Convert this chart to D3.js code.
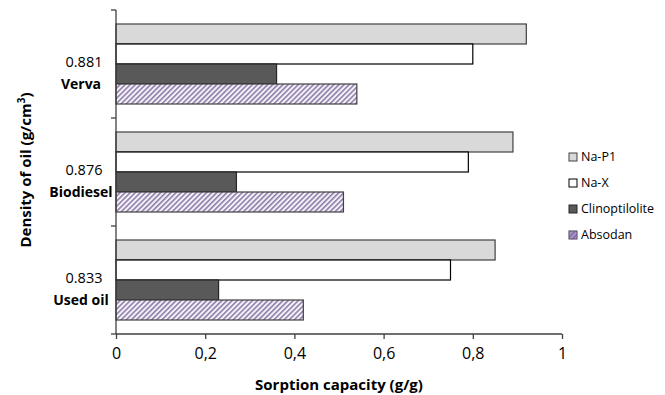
<!DOCTYPE html>
<html>
<head>
<meta charset="utf-8">
<script src="https://cdn.jsdelivr.net/npm/d3@7"></script>
<style>
  body { margin: 0; background: #fff; }
  svg { font-family: 'Open Sans', sans-serif; }
</style>
</head>
<body>
<div id="chart"></div>
<script>
// Categories top to bottom, with oil densities
const oils = ['Verva', 'Biodiesel', 'Used oil'];
const densities = ['0.881', '0.876', '0.833'];
const sorbents = ['Na-P1', 'Na-X', 'Clinoptilolite', 'Absodan'];

// Sorption capacity (g/g), one array per sorbent, in oils order
const naP1 = [0.92, 0.89, 0.85];
const naX = [0.80, 0.79, 0.75];
const clino = [0.36, 0.27, 0.23];
const absodan = [0.54, 0.51, 0.42];

const xTicks = [0, 0.2, 0.4, 0.6, 0.8, 1];

const series = [naP1, naX, clino, absodan];
const fills = ['#d9d9d9', '#ffffff', '#595959', 'url(#hatch)'];
const strokes = ['#404040', '#000000', '#262626', '#404040'];

const width = 665, height = 395;
const margin = { top: 10, left: 116, right: 103, bottom: 61 };

const svg = d3.select('#chart')
	.append('svg')
	.attr('width', width)
	.attr('height', height);

// hatch pattern for Absodan
const defs = svg.append('defs');
const pat = defs.append('pattern')
	.attr('id', 'hatch')
	.attr('patternUnits', 'userSpaceOnUse')
	.attr('width', 3.6)
	.attr('height', 3.6)
	.attr('patternTransform', 'rotate(45)');
pat.append('rect').attr('width', 3.6).attr('height', 3.6).attr('fill', '#f4f2f7');
pat.append('rect').attr('width', 1.6).attr('height', 3.6).attr('fill', '#8f7dab');

const xScale = d3.scaleLinear().domain([0, 1]).range([margin.left, width - margin.right]);
const yScale = d3.scaleBand().domain(oils).range([margin.top, height - margin.bottom]);
const inner = d3.scaleBand().domain(sorbents).range([0, yScale.bandwidth()]).paddingOuter(0.7);

const rows = oils.map((oil, i) => ({ oil, values: sorbents.map((s, j) => ({ s, j, v: series[j][i] })) }));

const groups = svg.selectAll('.grp')
	.data(rows)
	.enter()
	.append('g')
	.attr('transform', (d) => `translate(0,${yScale(d.oil)})`);

groups.selectAll('rect')
	.data((d) => d.values)
	.enter()
	.append('rect')
	.attr('x', xScale(0))
	.attr('y', (d) => inner(d.s))
	.attr('width', (d) => xScale(d.v) - xScale(0))
	.attr('height', inner.bandwidth())
	.attr('fill', (d) => fills[d.j])
	.attr('stroke', (d) => strokes[d.j])
	.attr('stroke-width', 1.2);

// X axis
const xAxis = d3.axisBottom(xScale)
	.tickValues(xTicks)
	.tickSize(5)
	.tickFormat((d) => d3.format('.1f')(d).replace('.', ',').replace(/^0,0$/, '0').replace(/^1,0$/, '1'));
const gx = svg.append('g')
	.attr('transform', `translate(0,${height - margin.bottom})`)
	.call(xAxis);
gx.select('.domain').attr('stroke', '#404040').attr('stroke-width', 1.3)
	.attr('d', `M${xScale(0)},0H${xScale(1)}`);
gx.selectAll('.tick line').attr('stroke', '#404040').attr('stroke-width', 1.3);
gx.selectAll('.tick text')
	.attr('dy', '1.05em')
	.attr('font-size', 16)
	.attr('font-family', "'Open Sans', sans-serif")
	.attr('fill', '#000');

// Y axis (category separators)
const sepY = oils.map((o) => yScale(o)).concat([height - margin.bottom]);
svg.append('line')
	.attr('x1', xScale(0)).attr('x2', xScale(0))
	.attr('y1', margin.top).attr('y2', height - margin.bottom)
	.attr('stroke', '#404040').attr('stroke-width', 1.3);
svg.selectAll('.ytick')
	.data(sepY)
	.enter()
	.append('line')
	.attr('x1', xScale(0) - 5).attr('x2', xScale(0))
	.attr('y1', (d) => d).attr('y2', (d) => d)
	.attr('stroke', '#404040').attr('stroke-width', 1.3);

// Category labels
const labels = svg.selectAll('.lab')
	.data(oils)
	.enter()
	.append('text')
	.attr('text-anchor', 'middle')
	.attr('font-size', 14.5)
	.attr('fill', '#000');
labels.append('tspan')
	.attr('x', 84)
	.attr('y', (d) => yScale(d) + yScale.bandwidth() / 2 + 3)
	.text((d, i) => densities[i]);
labels.append('tspan')
	.attr('x', 81)
	.attr('y', (d) => yScale(d) + yScale.bandwidth() / 2 + 25)
	.attr('font-weight', 'bold')
	.attr('font-size', 14)
	.text((d) => d);

// Axis titles
svg.append('text')
	.attr('x', (xScale(0) + xScale(1)) / 2)
	.attr('y', 390)
	.attr('text-anchor', 'middle')
	.attr('font-weight', 'bold')
	.attr('font-size', 15)
	.text('Sorption capacity (g/g)');

const yTitle = svg.append('text')
	.attr('transform', `translate(31,${170}) rotate(-90)`)
	.attr('text-anchor', 'middle')
	.attr('font-weight', 'bold')
	.attr('font-size', 15)
	.text('Density of oil (g/cm');
yTitle.append('tspan').attr('dy', -6).attr('font-size', 10).text('3');
yTitle.append('tspan').attr('dy', 6).text(')');

// Legend
const legend = svg.selectAll('.leg')
	.data(sorbents)
	.enter()
	.append('g')
	.attr('transform', (d, i) => `translate(569,${153 + i * 26})`);
legend.append('rect')
	.attr('width', 8).attr('height', 8)
	.attr('fill', (d, i) => fills[i])
	.attr('stroke', (d, i) => strokes[i]);
legend.append('rect')
	.filter((d, i) => i === 3)
	.attr('width', 8).attr('height', 8)
	.attr('fill', '#7a5fa8').attr('opacity', 0.6);
legend.append('text')
	.attr('x', 12).attr('y', 4)
	.attr('dy', '0.35em')
	.attr('font-size', 12.5)
	.text((d) => d);
</script>
</body>
</html>
